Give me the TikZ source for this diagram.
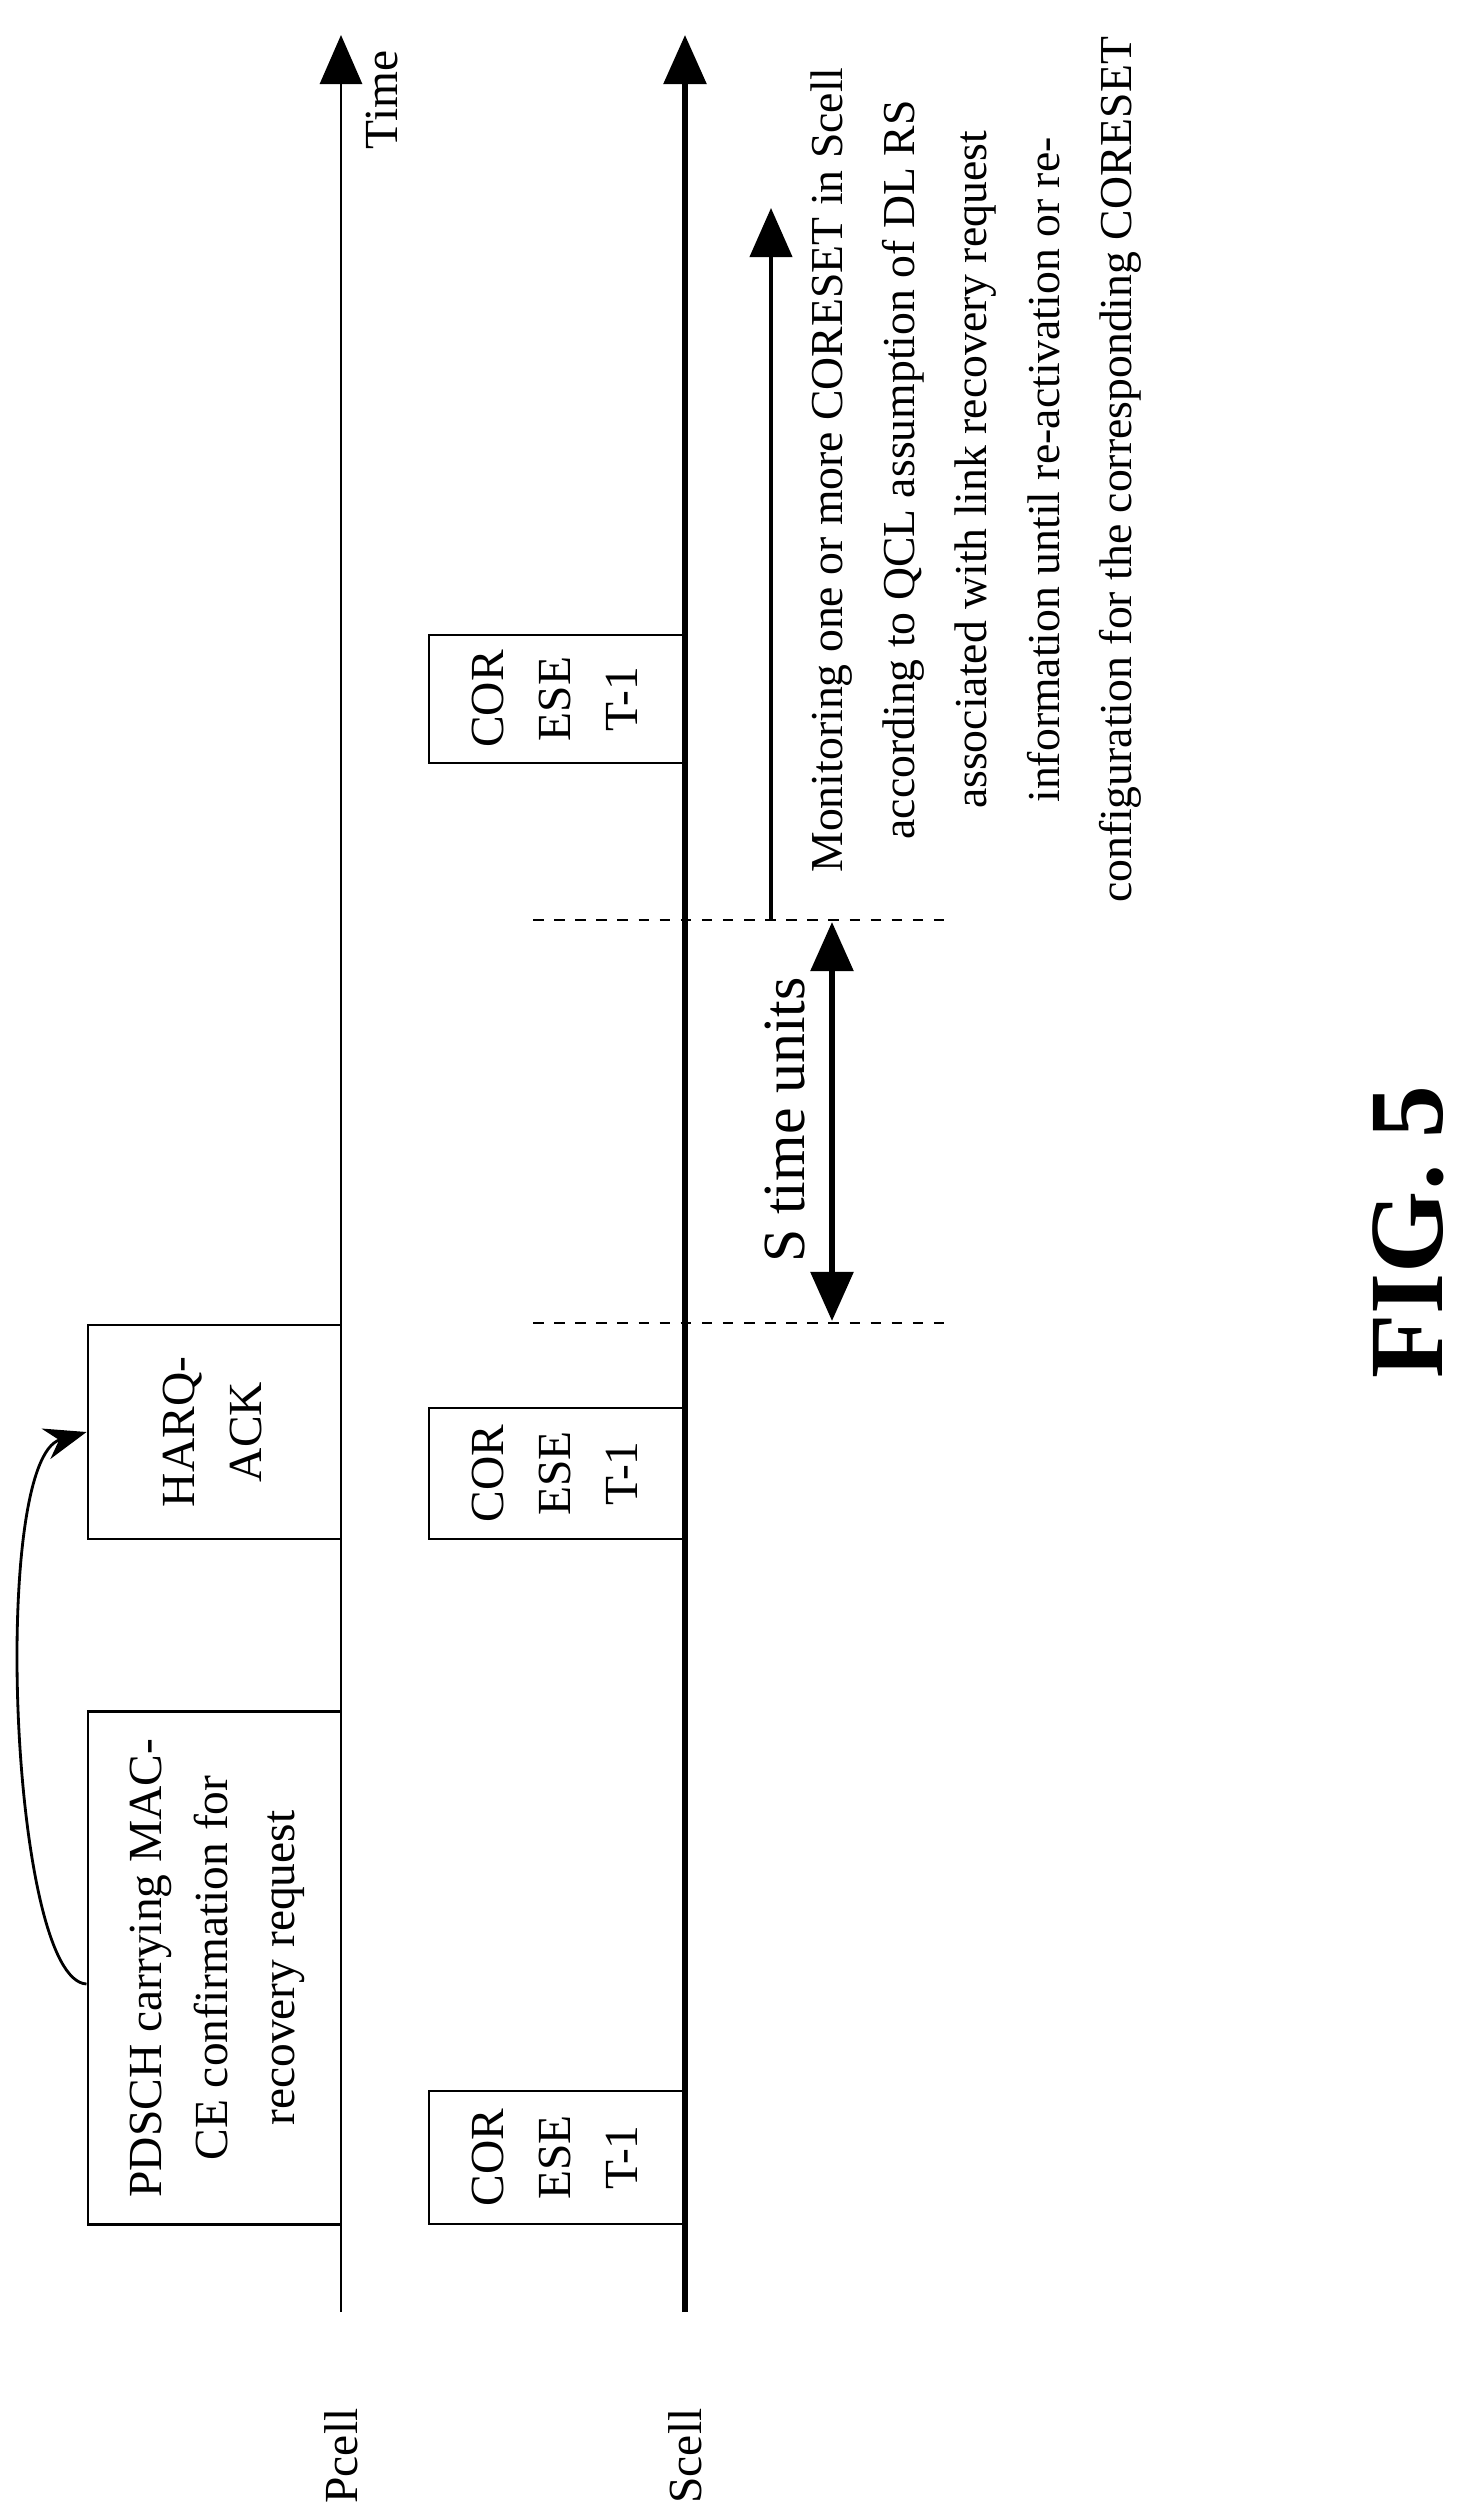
\documentclass[tikz,border=0pt]{standalone}
\usepackage{fontspec}
\setmainfont{Liberation Serif}
\usetikzlibrary{arrows.meta}

\begin{document}
\begin{tikzpicture}
        [
            x=0.01cm, y=-0.01cm,
            box/.style = {draw, shape=rectangle, inner sep=0pt, line width=0.8pt},
            lbl/.style = {rotate=90, font=\fontsize{13.5}{19}\selectfont, align=center},
            axis/.style = {-{Triangle[length=14pt, width=12pt]}},
            dashmark/.style = {dashed, line width=0.8pt},
        ]
        \useasboundingbox (0,0) rectangle (1469,2515);

        % axes
        \coordinate (p0) at (341,2312);
        \coordinate (p1) at (341,35);
        \coordinate (s0) at (685,2312);
        \coordinate (s1) at (685,35);
        \draw [axis, line width=0.8pt] (p0) -- (p1);
        \draw [axis, line width=1.6pt] (s0) -- (s1);

        \node[lbl, anchor=south] (time) at (410,100) {Time};
        \node[lbl] (pcell) at (341,2456) {Pcell};
        \node[lbl] (scell) at (685,2456) {Scell};

        % Pcell boxes
        \node[box, minimum width=2.53cm, minimum height=5.12cm] (pdsch) at (214.5,1968)
            {\rotatebox{90}{\fontsize{13.5}{19}\selectfont\begin{tabular}{@{}c@{}}PDSCH carrying MAC-\\CE confirmation for\\recovery request\end{tabular}}};
        \node[box, minimum width=2.53cm, minimum height=2.14cm] (harq) at (214.5,1432)
            {\rotatebox{90}{\fontsize{13.5}{19}\selectfont\begin{tabular}{@{}c@{}}HARQ-\\ACK\end{tabular}}};

        % Scell boxes
        \foreach \y/\h [count=\i] in {2157.5/1.33, 1473.5/1.31, 699/1.28}
            \node[box, minimum width=2.56cm, minimum height=\h cm] (cs\i) at (557,\y)
                {\rotatebox{90}{\fontsize{13.5}{19}\selectfont\begin{tabular}{@{}c@{}}COR\\ESE\\T-1\end{tabular}}};

        % dashed marks
        \coordinate (d1a) at (533,920);
        \coordinate (d1b) at (944,920);
        \coordinate (d2a) at (533,1323);
        \coordinate (d2b) at (944,1323);
        \draw [dashmark] (d1a) -- (d1b);
        \draw [dashmark] (d2a) -- (d2b);

        % S time units
        \coordinate (t1) at (832,922);
        \coordinate (t2) at (832,1321);
        \draw [{Triangle[length=14pt, width=12pt]}-{Triangle[length=14pt, width=12pt]}, line width=1.6pt] (t1) -- (t2);
        \node[lbl, font=\fontsize{17}{20}\selectfont] (su) at (785,1120) {S time units};

        % monitoring arrow
        \coordinate (m0) at (771,920);
        \coordinate (m1) at (771,208);
        \draw [axis, line width=1.2pt] (m0) -- (m1);
        \node[lbl, font=\fontsize{13}{20.5}\selectfont] (mon) at (976,470)
            {Monitoring one or more CORESET in Scell\\according to QCL assumption of DL RS\\associated with link recovery request\\information until re-activation or re-\\configuration for the corresponding CORESET};

        % curved arrow
        \draw [-{Stealth[length=12pt, width=9pt]}, line width=0.8pt] (pdsch.west |- 0,1984)
            .. controls (10,1980) and (-10,1460) .. (harq.west |- 0,1432);

        \node[rotate=90, font=\fontsize{30}{34}\selectfont\bfseries] (fig) at (1408,1232) {FIG. 5};
    \end{tikzpicture}
\end{document}
